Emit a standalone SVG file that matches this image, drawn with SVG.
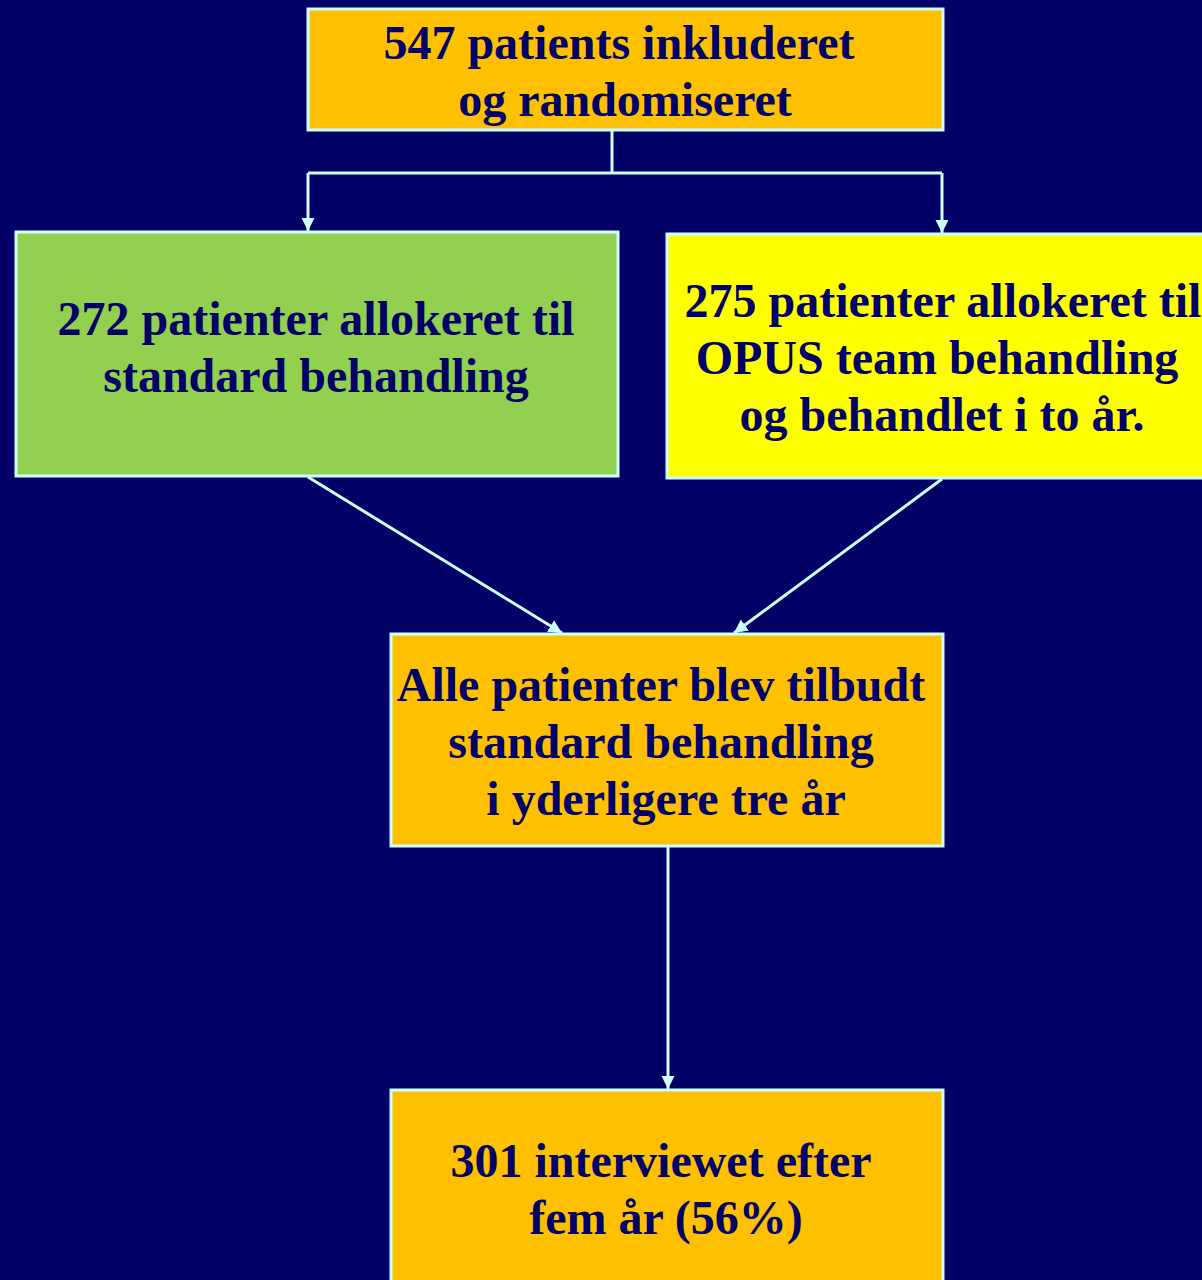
<svg xmlns="http://www.w3.org/2000/svg" width="1202" height="1280" viewBox="0 0 1202 1280">
<defs>
<style>
.box{stroke:#CCFFFF;stroke-width:3}
.t{font-family:"Liberation Serif","Times New Roman",serif;font-weight:bold;font-size:48px;fill:#000066;text-anchor:middle}
.c{stroke:#CCFFFF;stroke-width:3;fill:none}
</style>
<marker id="ah" viewBox="0 0 10 10" refX="10" refY="5" markerWidth="4.5" markerHeight="4.5" markerUnits="strokeWidth" orient="auto">
<path d="M0,0 L10,5 L0,10 z" fill="#CCFFFF"/>
</marker>
</defs>
<rect width="1202" height="1280" fill="#000066"/>
<g id="connectors">
<polyline class="c" points="612,131 612,173"/>
<polyline class="c" points="308,173 942,173"/>
<line class="c" x1="308" y1="173" x2="308" y2="231" marker-end="url(#ah)"/>
<line class="c" x1="942" y1="173" x2="942" y2="233" marker-end="url(#ah)"/>
<line class="c" x1="308" y1="477" x2="562" y2="633" marker-end="url(#ah)"/>
<line class="c" x1="942" y1="479" x2="734" y2="633" marker-end="url(#ah)"/>
<line class="c" x1="668" y1="847" x2="668" y2="1089" marker-end="url(#ah)"/>
</g>
<g id="n1">
<rect class="box" x="308" y="9" width="635" height="121" fill="#FFC000"/>
<text class="t" x="619" y="59">547 patients inkluderet</text>
<text class="t" x="625" y="116">og randomiseret</text>
</g>
<g id="n2">
<rect class="box" x="16" y="232" width="602" height="244" fill="#92D050"/>
<text class="t" x="316" y="335">272 patienter allokeret til</text>
<text class="t" x="316" y="392">standard behandling</text>
</g>
<g id="n3">
<rect class="box" x="667" y="234" width="540" height="244" fill="#FFFF00"/>
<text class="t" x="943" y="317">275 patienter allokeret til</text>
<text class="t" x="937" y="374">OPUS team behandling</text>
<text class="t" x="942" y="431">og behandlet i to år.</text>
</g>
<g id="n4">
<rect class="box" x="391" y="634" width="552" height="212" fill="#FFC000"/>
<text class="t" x="661" y="701">Alle patienter blev tilbudt</text>
<text class="t" x="661" y="758">standard behandling</text>
<text class="t" x="666" y="815">i yderligere tre år</text>
</g>
<g id="n5">
<rect class="box" x="391" y="1090" width="552" height="200" fill="#FFC000"/>
<text class="t" x="661" y="1177">301 interviewet efter</text>
<text class="t" x="666" y="1234">fem år (56%)</text>
</g>
</svg>
